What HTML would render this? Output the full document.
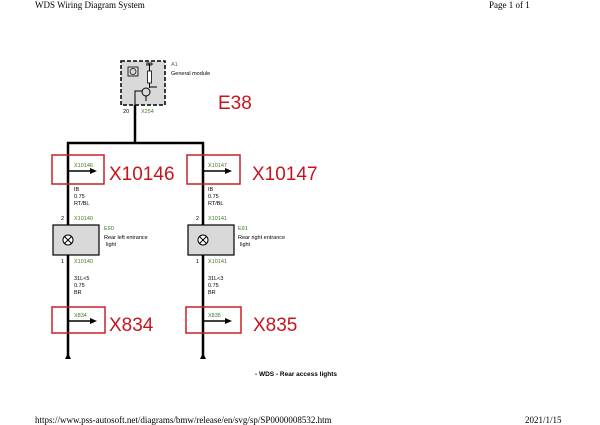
<!DOCTYPE html>
<html><head><style>html,body{margin:0;padding:0;background:#fff}svg{display:block}</style></head>
<body>
<svg width="600" height="425" viewBox="0 0 600 425" xmlns="http://www.w3.org/2000/svg">
<g font-family="Liberation Serif, serif" font-size="9" fill="#000">
<text x="35" y="8">WDS Wiring Diagram System</text>
<text x="489" y="8">Page 1 of 1</text>
<text x="35" y="423">https://www.pss-autosoft.net/diagrams/bmw/release/en/svg/sp/SP0000008532.htm</text>
<text x="525" y="423">2021/1/15</text>
</g>
<!-- module -->
<rect x="121" y="61" width="44" height="44" fill="#d9d9d9" stroke="#000" stroke-width="1.5" stroke-dasharray="4,2"/>
<rect x="128" y="67" width="10" height="9" fill="none" stroke="#000" stroke-width="0.8"/>
<circle cx="133" cy="71.5" r="3" fill="none" stroke="#000" stroke-width="0.7"/>
<line x1="146" y1="64" x2="153" y2="64" stroke="#000"/>
<line x1="149.5" y1="64" x2="149.5" y2="71" stroke="#000"/>
<rect x="147.5" y="71" width="4" height="12" fill="#fff" stroke="#000" stroke-width="0.8"/>
<line x1="149.5" y1="83" x2="149.5" y2="88" stroke="#000"/>
<line x1="149.5" y1="87" x2="157" y2="87" stroke="#000"/>
<circle cx="146" cy="92" r="4" fill="none" stroke="#000"/>
<polyline points="142,91 135,91 135,105" fill="none" stroke="#000"/>
<line x1="146" y1="96" x2="146" y2="101" stroke="#000"/>
<g font-family="Liberation Sans, sans-serif" font-size="5.5">
<text x="146" y="66">30</text>
<text x="171" y="66" fill="#3a7a1a">A1</text>
<text x="171" y="75">General module</text>
<text x="123" y="113">20</text>
<text x="141" y="113" fill="#3a7a1a">X254</text>
</g>
<!-- wires -->
<g stroke="#000" stroke-width="2.5" fill="none">
<line x1="135" y1="105" x2="135" y2="143"/>
<polyline points="68,358 68,143 203,143 203,358"/>
</g>
<!-- connector arrows -->
<g stroke="#000" stroke-width="1.5">
<line x1="68" y1="171" x2="92" y2="171"/><line x1="203" y1="171" x2="227" y2="171"/>
<line x1="68" y1="321" x2="92" y2="321"/><line x1="203" y1="321" x2="227" y2="321"/>
</g>
<g fill="#000">
<polygon points="97,171 90,168 90,174"/><polygon points="232,171 225,168 225,174"/>
<polygon points="97,321 90,318 90,324"/><polygon points="232,321 225,318 225,324"/>
<polygon points="68,353 65,359 71,359"/><polygon points="203,353 200,359 206,359"/>
</g>
<!-- lamps -->
<g stroke="#000">
<rect x="53" y="225" width="46" height="30" fill="#d9d9d9" stroke-width="1.2"/>
<rect x="188" y="225" width="46" height="30" fill="#d9d9d9" stroke-width="1.2"/>
<circle cx="68" cy="240" r="5" fill="#fff"/><line x1="64.5" y1="236.5" x2="71.5" y2="243.5"/><line x1="71.5" y1="236.5" x2="64.5" y2="243.5"/>
<circle cx="203" cy="240" r="5" fill="#fff"/><line x1="199.5" y1="236.5" x2="206.5" y2="243.5"/><line x1="206.5" y1="236.5" x2="199.5" y2="243.5"/>
</g>
<g font-family="Liberation Sans, sans-serif" font-size="5.5">
<g fill="#3a7a1a">
<text x="74" y="167">X10146</text><text x="208" y="167">X10147</text>
<text x="74" y="220">X10140</text><text x="208" y="220">X10141</text>
<text x="74" y="263">X10140</text><text x="208" y="263">X10141</text>
<text x="104" y="230">E90</text><text x="238" y="230">E91</text>
<text x="74" y="317">X834</text><text x="208" y="317">X835</text>
</g>
<text x="74" y="191">IB</text><text x="74" y="198">0.75</text><text x="74" y="205">RT/BL</text>
<text x="208" y="191">IB</text><text x="208" y="198">0.75</text><text x="208" y="205">RT/BL</text>
<text x="61" y="220">2</text><text x="196" y="220">2</text>
<text x="61" y="263">1</text><text x="196" y="263">1</text>
<text x="104" y="239">Rear left entrance</text><text x="106" y="246">light</text>
<text x="238" y="239">Rear right entrance</text><text x="240" y="246">light</text>
<text x="74" y="280">31L&lt;5</text><text x="74" y="287">0.75</text><text x="74" y="294">BR</text>
<text x="208" y="280">31L&lt;3</text><text x="208" y="287">0.75</text><text x="208" y="294">BR</text>
<text x="255" y="376" font-weight="bold" font-size="6.5">- WDS - Rear access lights</text>
</g>
<!-- red annotations -->
<g fill="none" stroke="#c8202a" stroke-width="1.5">
<rect x="52" y="155" width="52" height="29"/>
<rect x="187" y="155" width="53" height="29"/>
<rect x="52" y="307" width="53" height="26"/>
<rect x="186" y="307" width="55" height="26"/>
</g>
<g font-family="Liberation Sans, sans-serif" font-size="19" fill="#c8141e">
<text x="218" y="109">E38</text>
<text x="109" y="180">X10146</text>
<text x="252" y="180">X10147</text>
<text x="109" y="331">X834</text>
<text x="253" y="331">X835</text>
</g>
</svg>
</body></html>
